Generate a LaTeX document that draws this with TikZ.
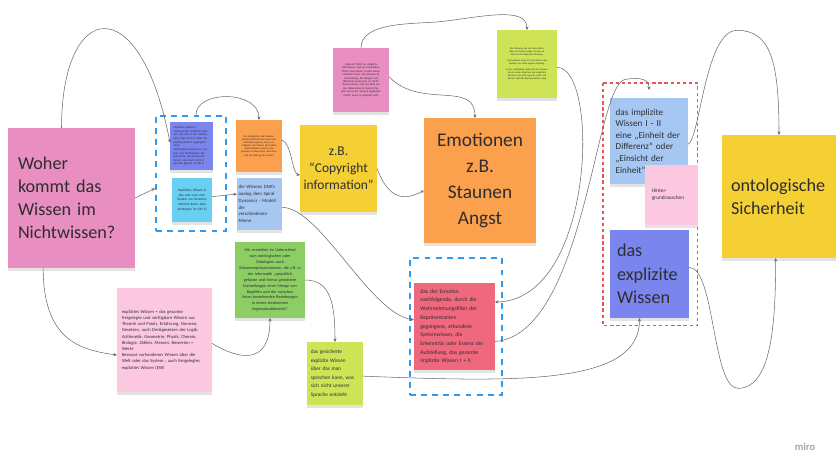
\documentclass[tikz,border=0pt]{standalone}
\usepackage{fontspec}
\setmainfont{Carlito}
\usetikzlibrary{arrows.meta, shadows}

\definecolor{woherC}   {RGB}{232,142,192}
\definecolor{implAC}   {RGB}{123,133,238}
\definecolor{implBC}   {RGB}{103,208,242}
\definecolor{orangeC}  {RGB}{251,160, 76}
\definecolor{ltblueC}  {RGB}{166,199,242}
\definecolor{yellowC}  {RGB}{245,208, 52}
\definecolor{limeC}    {RGB}{206,228, 86}
\definecolor{greenC}   {RGB}{140,205,100}
\definecolor{ltpinkC}  {RGB}{252,200,224}
\definecolor{redC}     {RGB}{240,104,126}
\definecolor{frameBlue}{RGB}{ 45,155,240}
\definecolor{frameRd}  {RGB}{236, 84, 88}
\definecolor{lineC}    {RGB}{105,105,105}
\definecolor{txtC}     {RGB}{ 45, 45, 50}

\tikzset{
  note/.style    = {anchor=north west, fill=#1, inner sep=0pt, outer sep=0pt,
                    align=left, text=txtC,
                    drop shadow={opacity=0.22, shadow xshift=0pt, shadow yshift=-2.5pt}},
  grpbox/.style  = {anchor=north west, draw=frameBlue, line width=1.6pt,
                    dash pattern=on 5pt off 4.5pt, inner sep=0pt},
  grpbound/.style= {anchor=north west, inner sep=0pt},
  grpline/.style = {frameRd, line width=1.3pt, dash pattern=on 2.8pt off 2.4pt},
  conn/.style    = {-{Stealth[length=3pt, width=2.6pt]}, line width=0.45pt, color=lineC},
}

\begin{document}
\begin{tikzpicture}[x=0.03cm, y=-0.03cm]

\useasboundingbox (0,0) rectangle (836,457);

% ------------------------------------------------------------
%  dashed groups
% ------------------------------------------------------------
\node[grpbox, minimum width=2.10cm, minimum height=3.45cm] (g1) at (155,115) {};
\node[grpbox, minimum width=2.76cm, minimum height=4.11cm] (g2) at (409,257) {};
\node[grpbound, minimum width=2.82cm, minimum height=7.26cm] (g3) at (603,83) {};
\draw[grpline] (g3.north west) rectangle (g3.south east);

% ------------------------------------------------------------
%  sticky notes
% ------------------------------------------------------------
\node[note=woherC, minimum width=3.81cm, minimum height=4.20cm, text width=3.21cm,
      font=\fontsize{15.5}{19.5}\selectfont] (woher) at (8,128)
  {Woher\\kommt das\\Wissen im\\Nichtwissen?};

\node[note=implAC, minimum width=1.29cm, minimum height=1.44cm, text width=1.08cm,
      font=\fontsize{2.5}{3.1}\selectfont] (implA) at (170,122)
  {Implizites Wissen I\\
   Unbewusstes implizites Wissen, das sich in der Aufstellung zeigt und nur
   über die Repräsentanten zugänglich wird.\\
   Verborgenes Wissen im System, das Nichtwissen, die Potentiale, die Quelle
   des Neuen, das noch nicht in Sprache gefasst ist (IW I)};

\node[note=implBC, minimum width=1.20cm, minimum height=1.32cm, text width=1.0cm,
      align=center, font=\fontsize{3}{4}\selectfont] (implB) at (172,178)
  {Implizites Wissen II das was man vom System zur Kenntnis nehmen kann, aber
   verborgen ist (IW II)};

\node[note=orangeC, minimum width=1.38cm, minimum height=1.56cm, text width=1.15cm,
      align=center, font=\fontsize{2.2}{2.7}\selectfont] (zeit) at (236,120)
  {Die Zeitigkeiten der Gewahrseinsbereitschaft sind auch eine
   Instruktionsgrenze, die es ermöglicht, das Wissen des Feldes wahrzunehmen
   und in eine Sprache zu übersetzen, Resonanz und die Haltung des Leiters};

\node[note=ltblueC, minimum width=1.35cm, minimum height=1.56cm, text width=1.25cm,
      font=\fontsize{4.1}{5.8}\selectfont] (dna) at (237,178)
  {die Wissens DNA's\\analog dem Spiral\\Dynamics - Modell\\die\\verschiedenen\\Meme};

\node[note=yellowC, minimum width=2.31cm, minimum height=2.61cm, text width=2.1cm,
      align=center, font=\fontsize{11.5}{14.5}\selectfont] (copy) at (300,125)
  {z.B.\\“Copyright\\information”};

\node[note=woherC, minimum width=1.68cm, minimum height=1.92cm, text width=1.35cm,
      align=center, font=\fontsize{2.3}{2.9}\selectfont] (pinkTop) at (333,48)
  {„Staunen“ führt ins ‚mögliche Nichtwissen‘ und zum Innehalten, öffnet
   einen Raum, in dem Neues entstehen kann. Das Staunen ist eine Haltung,
   die Neugier und Offenheit voraussetzt, ein Nicht-Wissen-Wollen, das den
   Blick auf das Unbekannte im System freigibt und es der Sprache
   zugänglich macht, bevor es gedeutet wird};

\node[note=orangeC, minimum width=3.36cm, minimum height=3.75cm, text width=3.0cm,
      align=center, font=\fontsize{16.5}{22}\selectfont] (emo) at (424,118)
  {Emotionen\\z.B.\\Staunen\\Angst};

\node[note=limeC, minimum width=1.80cm, minimum height=2.04cm, text width=1.45cm,
      align=center, font=\fontsize{2.1}{2.7}\selectfont] (greenTop) at (497,30)
  {Die Ordnung, die sich dem Betrachter im Staunen zeigt, ist eine andere
   als die bekannte Ordnung.\\[2pt]
   In Emotionen zeigt sich das Wissen des Systems um seine eigene Ordnung.\\[2pt]
   In der Aufstellung zeigt sich das Staunen als ein erster Ausdruck des
   impliziten Wissens, das nach Sprache sucht und sich im Feld
   der Repräsentanten zeigt};

\node[note=ltblueC, minimum width=2.34cm, minimum height=2.58cm, text width=2.0cm,
      font=\fontsize{7.8}{9.9}\selectfont] (implizit) at (610,98)
  {das implizite\\Wissen I - II\\eine „Einheit der\\Differenz“ oder\\„Einsicht der\\Einheit“};

\node[note=ltpinkC, minimum width=1.59cm, minimum height=1.80cm, text width=1.17cm,
      font=\fontsize{4.5}{6}\selectfont] (hinter) at (645,165)
  {Hinter-\\grundrauschen};

\node[note=implAC, minimum width=2.37cm, minimum height=2.64cm, text width=1.95cm,
      font=\fontsize{15.5}{20}\selectfont] (explizit) at (610,230)
  {das\\explizite\\Wissen};

\node[note=yellowC, minimum width=3.42cm, minimum height=3.69cm, text width=2.88cm,
      font=\fontsize{15.5}{19.5}\selectfont] (onto) at (722,135)
  {ontologische\\Sicherheit};

\node[note=greenC, minimum width=2.10cm, minimum height=2.28cm, text width=2.0cm,
      align=center, font=\fontsize{3.5}{5.1}\selectfont] (greenMid) at (235,242)
  {Wir verstehen im Unterschied\\zum ontologischen oder\\Ontologien auch\\
   Wissensrepräsentationen, die z.B. in\\der Informatik „sprachlich\\
   gefasste und formal geordnete\\Darstellungen einer Menge von\\
   Begriffen und der zwischen\\ihnen bestehenden Beziehungen\\
   in einem bestimmten\\Gegenstandsbereich.“};

\node[note=ltpinkC, minimum width=2.85cm, minimum height=3.12cm, text width=2.55cm,
      font=\fontsize{3.9}{5.3}\selectfont] (pinkBig) at (117,288)
  {explizites Wissen = das gesamte\\freigelegte und verfügbare Wissen aus\\
   Theorie und Praxis, Erfahrung, Normen,\\Gesetzen, auch Denkgesetzen der Logik:\\
   Arithmetik, Geometrie, Physik, Chemie,\\Biologie, Zählen, Messen, Bewerten =\\
   Werte\\Bewusst vorhandenes Wissen über die\\
   Welt oder das System ; auch freigelegtes\\explizites Wissen (EW)};

\node[note=limeC, minimum width=1.68cm, minimum height=1.89cm, text width=1.45cm,
      font=\fontsize{4.5}{7.3}\selectfont] (greenBot) at (307,342)
  {das gesicherte\\explizite Wissen\\über das man\\sprechen kann, was\\sich nicht unserer\\Sprache entzieht};

\node[note=redC, minimum width=2.43cm, minimum height=2.61cm, text width=2.05cm,
      font=\fontsize{4.8}{7.4}\selectfont] (rednote) at (414,283)
  {das der Emotion\\nachfolgende, durch die\\Wahrnehmungsfilter der\\Repräsentanten\\
   gegangene, erkundete\\Systemwissen, die\\Erkenntnis oder Essenz der\\
   Aufstellung, das gesamte\\implizite Wissen I + II};

\node[text=black!35, font=\fontsize{9}{9}\selectfont\bfseries] (miro) at (805,447) {miro};

% ------------------------------------------------------------
%  connectors
% ------------------------------------------------------------
\draw[conn] ([xshift=-3mm]woher.north) .. controls +(0,-128) and +(-30,-156) .. ([yshift=1mm]implA.west);
\draw[conn] (woher.east) -- ([yshift=-4.5mm]g1.west);
\draw[conn] ([xshift=1.5mm]g1.north) .. controls +(0,-25) and +(0,-30) .. (zeit.north);
\draw[conn] ([yshift=1.8mm]zeit.east) .. controls +(10,4) and +(-8,-2) .. ([yshift=-2mm]copy.west);
\draw[conn] ([yshift=1mm]implB.east) -- ([yshift=3mm]dna.west);
\draw[conn] (copy.east) .. controls +(12,32) and +(-19,10) .. ([yshift=-3mm]emo.west);
\draw[conn] (pinkTop.north) .. controls +(0,-25) and +(-30,2) .. ++(76,-26)
            .. controls +(40,-4) and +(0,-25) .. (greenTop.north);
\draw[conn] ([yshift=1mm]pinkTop.east) .. controls +(31,33) and +(0,-38) .. ([xshift=-1.5mm]emo.north);
\draw[conn] ([yshift=-1mm]greenTop.east) .. controls +(43,0) and +(100,-2) .. ([yshift=7.35mm]rednote.east);
\draw[conn] ([yshift=-1mm]dna.east) .. controls +(38,0) and +(-44,-6) .. ([yshift=2mm]rednote.west);
\draw[conn] (greenMid.east) .. controls +(25,0) and +(0,-40) .. (greenBot.north);
\draw[conn] ([yshift=-1mm]pinkBig.east) .. controls +(28,17) and +(0,47) .. (greenMid.south);
\draw[conn] ([xshift=-8.5mm]woher.south) .. controls +(0,72) and +(-37,-5) .. ([yshift=-4.5mm]pinkBig.west);
\draw[conn] ([yshift=-0.8mm]greenBot.east) .. controls +(157,6) and +(0,67) .. ([xshift=-3mm]explizit.south);
\draw[conn] ([yshift=-4.5mm]rednote.east) .. controls +(90,-7) and +(-30,5) .. ++(130,-262)
            .. controls +(17,-3) and +(0,-10) .. ([yshift=2.4mm]implizit.north);
\draw[conn] ([yshift=-1mm]implizit.east) .. controls +(12,-5) and +(-32,0) .. ++(49,-114)
            .. controls +(33,0) and +(0,-75) .. (onto.north);
\draw[conn] ([yshift=2mm]explizit.east) .. controls +(26,0) and +(-26,0) .. ++(49,121)
            .. controls +(32,0) and +(0,72) .. ([xshift=-1mm]onto.south);

\end{tikzpicture}
\end{document}
